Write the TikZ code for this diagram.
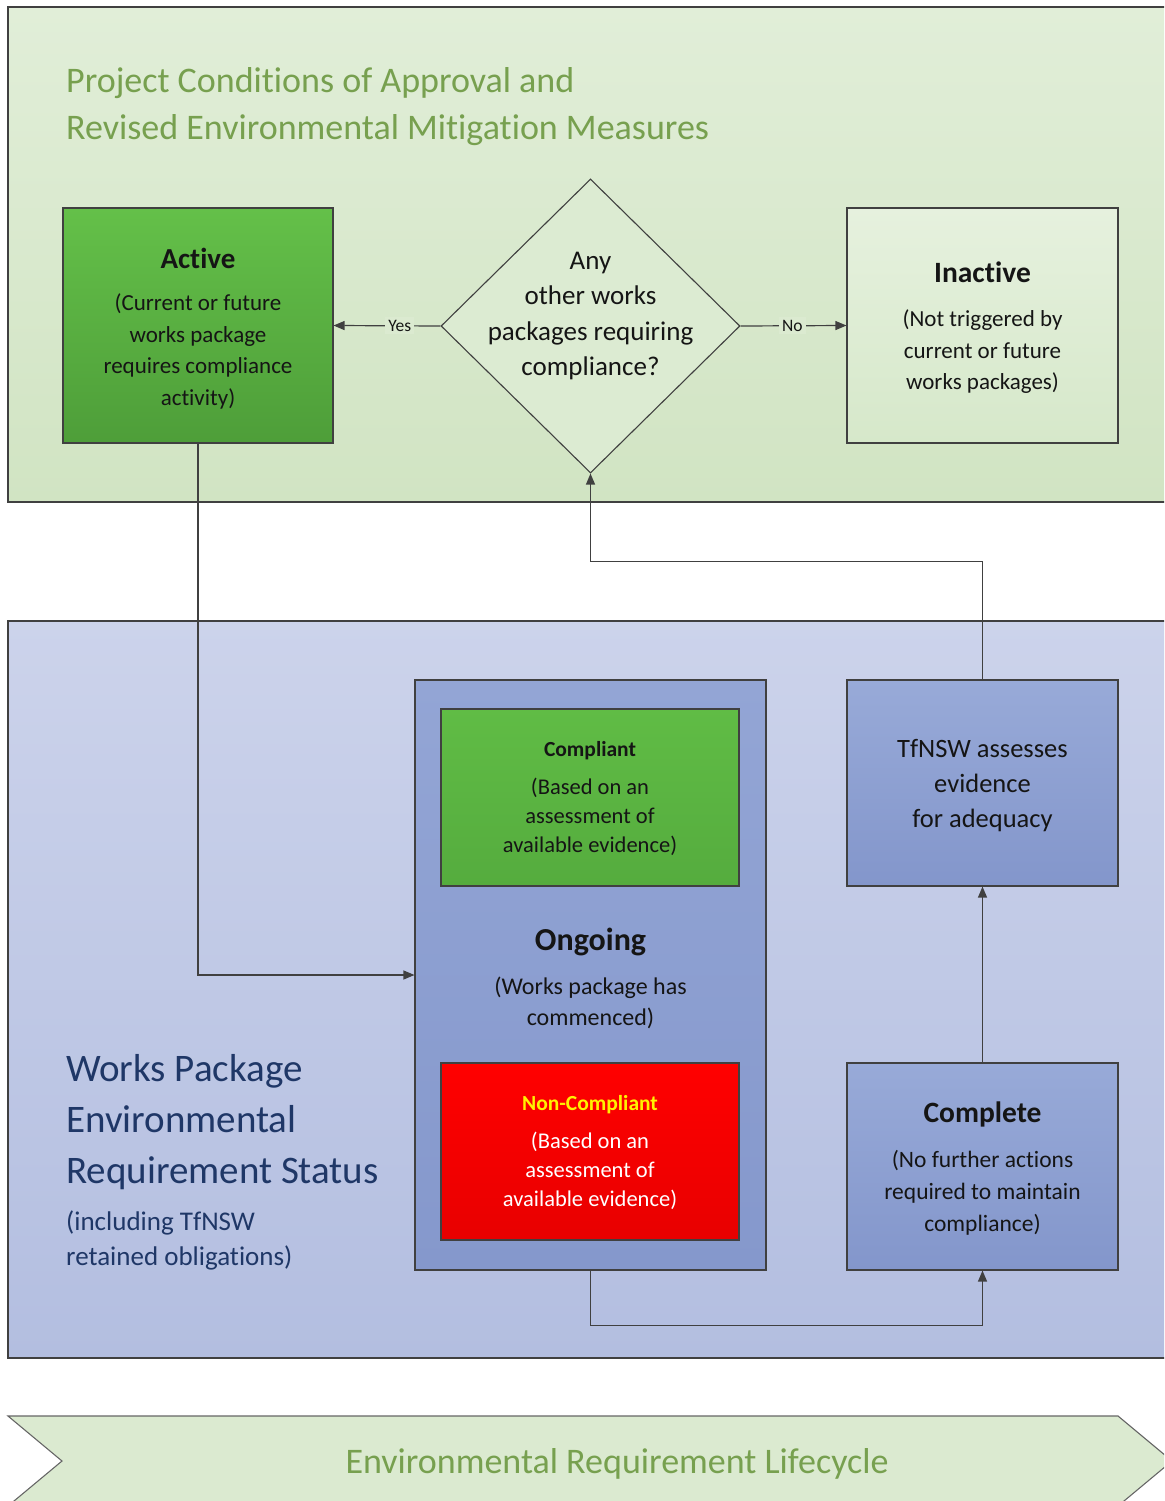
\documentclass[tikz,border=0pt]{standalone}
\usepackage{fontspec}
\setmainfont{Carlito}[Ligatures=NoCommon]
\usetikzlibrary{shapes.geometric,arrows.meta}
\definecolor{edge}{HTML}{404040}
\definecolor{greentop}{HTML}{E1EED8}
\definecolor{greenbot}{HTML}{D1E4C3}
\definecolor{bluetop}{HTML}{CCD3EB}
\definecolor{bluebot}{HTML}{B3BEE0}
\definecolor{actTop}{HTML}{64C049}
\definecolor{actBot}{HTML}{4E9E39}
\definecolor{inTop}{HTML}{E6F1DE}
\definecolor{inBot}{HTML}{D6E8CA}
\definecolor{boxTop}{HTML}{98AAD8}
\definecolor{boxBot}{HTML}{8396CB}
\definecolor{ongTop}{HTML}{93A5D5}
\definecolor{ongBot}{HTML}{8598CC}
\definecolor{compTop}{HTML}{60BC45}
\definecolor{compBot}{HTML}{55AC3E}
\definecolor{ncTop}{HTML}{FF0000}
\definecolor{ncBot}{HTML}{E80000}
\definecolor{titlegreen}{HTML}{77A04F}
\definecolor{navy}{HTML}{1F3767}
\definecolor{txt}{HTML}{151515}
\newcommand\fsz[2]{\fontsize{#1pt}{#2pt}\selectfont}
\begin{document}
\begin{tikzpicture}[x=1pt,y=-1pt,
  panel/.style={draw=edge, line width=1.1pt},
  box/.style={draw=edge, line width=1.1pt, inner sep=0pt, align=center, text=txt},
  conn/.style={draw=edge, line width=1.2pt, -{Triangle[length=11pt,width=9pt]}},
  lbl/.style={fill=greentop!60!greenbot, inner sep=3pt, text=txt, font=\fsz{17.5}{20}}
]
\useasboundingbox (0,0) rectangle (1164,1501);
\clip (0,0) rectangle (1164,1501);
\fill[white] (0,0) rectangle (1164,1501);

% panels
\path[panel, top color=greentop, bottom color=greenbot] (8,7) rectangle (1175,502);
\path[panel, top color=bluetop, bottom color=bluebot] (8,621) rectangle (1175,1358);

% top title
\node[anchor=west, align=left, text=titlegreen, font=\fsz{36}{47}, inner sep=0pt] (toptitle) at (66,107)
  {Project Conditions of Approval and\\Revised Environmental Mitigation Measures};

% Active
\node[box, top color=actTop, bottom color=actBot, minimum width=270pt, minimum height=235pt] (active) at (198,325.5) {};
\node[align=center, text=txt, inner sep=0pt, font=\fsz{23}{31.5}] (activetext) at (198,328.5)
  {{\bfseries\fsz{29}{31.5}Active}\\[11pt](Current or future\\works package\\requires compliance\\activity)};

% Inactive
\node[box, top color=inTop, bottom color=inBot, minimum width=271pt, minimum height=235pt] (inactive) at (982.5,325.5) {};
\node[align=center, text=txt, inner sep=0pt, font=\fsz{23}{31.5}] (inactivetext) at (982.5,327.5)
  {{\bfseries\fsz{29.5}{31.5}Inactive}\\[13pt](Not triggered by\\current or future\\works packages)};

% decision diamond
\node[diamond, draw=edge, line width=1.1pt, fill=greentop!70!greenbot, minimum width=299pt, minimum height=294pt, inner sep=0pt] (dec) at (590.5,326) {};
\node[align=center, text=txt, font=\fsz{27}{35.5}, inner sep=0pt] (dectext) at (590.5,316)
  {Any\\other works\\packages requiring\\compliance?};

\draw[conn] (dec.west) -- node[lbl, pos=0.38] {Yes} (active.east);
\draw[conn] (dec.east) -- node[lbl, pos=0.49] {No} (inactive.west);

% Ongoing
\node[box, top color=ongTop, bottom color=ongBot, minimum width=351pt, minimum height=590pt] (ongoing) at (590.5,975) {};
\node[align=center, text=txt, inner sep=0pt, font=\fsz{24}{31}] (ongtext) at (590.5,978)
  {{\bfseries\fsz{32}{31}Ongoing}\\[13pt](Works package has\\commenced)};

\node[box, top color=compTop, bottom color=compBot, minimum width=298pt, minimum height=177pt] (compliant) at (590,797.5) {};
\node[align=center, text=txt, inner sep=0pt, font=\fsz{22.5}{29}] (comptext) at (590,798.7)
  {{\bfseries\fsz{21.5}{29}Compliant}\\[9pt](Based on an\\assessment of\\available evidence)};

\node[box, top color=ncTop, bottom color=ncBot, minimum width=298pt, minimum height=177pt] (noncompliant) at (590,1151.5) {};
\node[align=center, text=white, inner sep=0pt, font=\fsz{22.5}{29}] (nctext) at (590,1153)
  {{\bfseries\fsz{21.5}{29}\color{yellow}Non-Compliant}\\[9pt](Based on an\\assessment of\\available evidence)};

% TfNSW
\node[box, top color=boxTop, bottom color=boxBot, minimum width=271pt, minimum height=206pt] (tfnsw) at (982.5,783) {};
\node[align=center, text=txt, inner sep=0pt, font=\fsz{26.5}{35}] (tfnswtext) at (982.5,786)
  {TfNSW assesses\\evidence\\for adequacy};

% Complete
\node[box, top color=boxTop, bottom color=boxBot, minimum width=271pt, minimum height=207pt] (complete) at (982.5,1166.5) {};
\node[align=center, text=txt, inner sep=0pt, font=\fsz{23.5}{32}] (completetext) at (982.5,1168.5)
  {{\bfseries\fsz{29.5}{32}Complete}\\[13pt](No further actions\\required to maintain\\compliance)};

% left title
\node[anchor=west, align=left, text=navy, inner sep=0pt, font=\fsz{39}{51}] (wptitle) at (66,1162)
  {Works Package\\Environmental\\Requirement Status\\[-4pt]{\fsz{27}{35}(including TfNSW}\\[-16pt]{\fsz{27}{35}retained obligations)}};

% connectors
\draw[conn] (active.south) |- (ongoing.west);
\draw[conn] (ongoing.south) -- ++(0,55) -| (complete.south);
\draw[conn] (complete.north) -- (tfnsw.south);
\draw[conn] (tfnsw.north) -- ++(0,-118) -| (dec.south);

% lifecycle chevron
\path[draw=edge!80, line width=1.1pt, fill=greentop!60!greenbot] (8,1416) -- (1118,1416) -- (1172,1461) -- (1118,1506) -- (8,1506) -- (62,1461) -- cycle;
\node[text=titlegreen, font=\fsz{36}{40}, inner sep=0pt] (lifecycle) at (617,1464) {Environmental Requirement Lifecycle};
\end{tikzpicture}
\end{document}
